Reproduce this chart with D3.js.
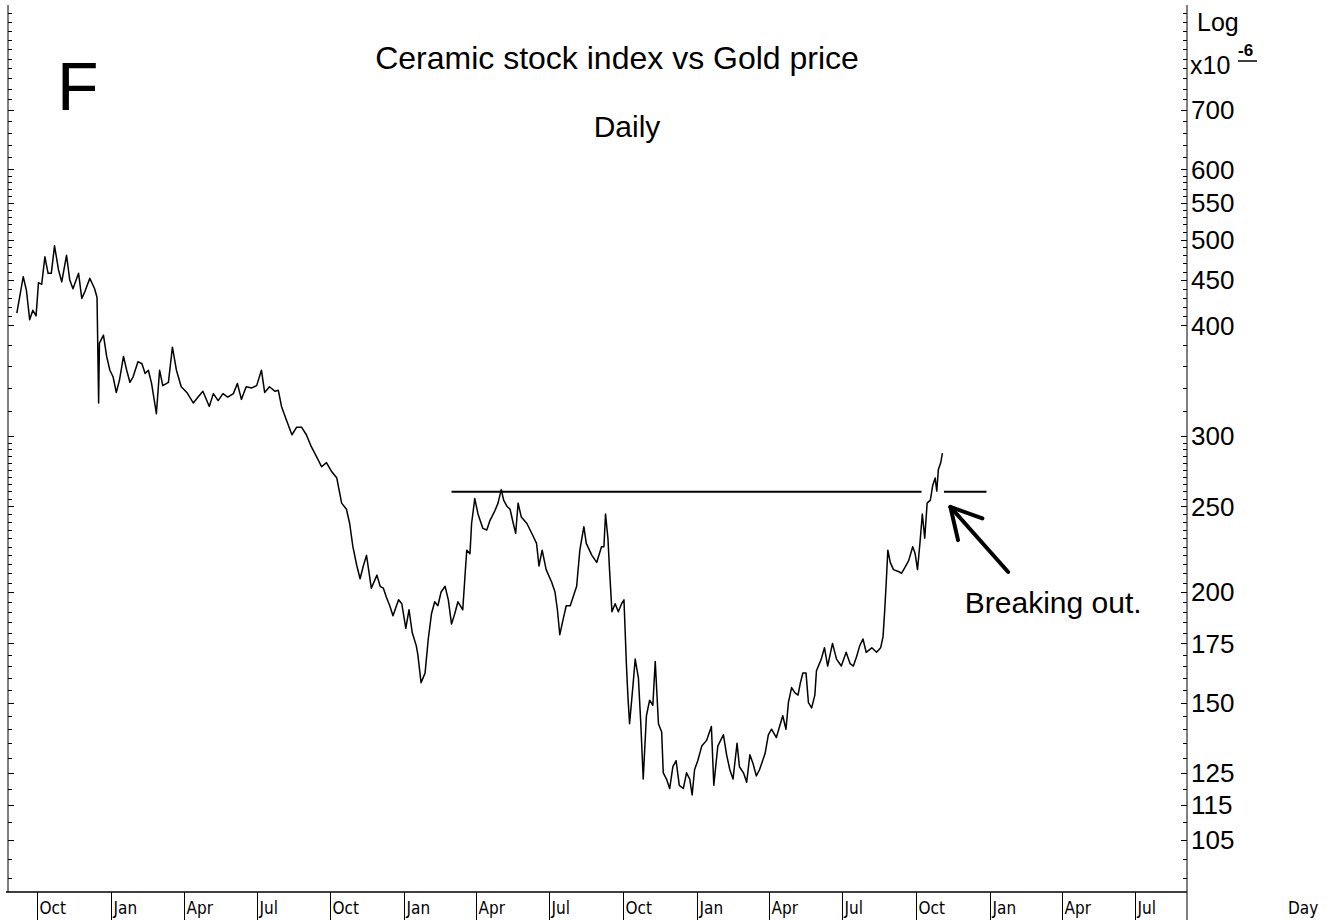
<!DOCTYPE html>
<html lang="en">
<head>
<meta charset="UTF-8">
<title>Ceramic stock index vs Gold price</title>
<script src="https://cdn.jsdelivr.net/npm/d3@7.8.5/dist/d3.min.js"></script>
<style>
    html, body { margin: 0; padding: 0; background: #fff; }
    svg { display: block; font-family: "Liberation Sans", Arial, sans-serif; }
</style>
</head>
<body>
<div id="chart"></div>
<script>
    // ---- data ----
    const firstDay = "2003-09-06";
    // [days after firstDay, ratio (x10^-6)]
    const ratio = [
        [0,413],[8,454],[12,438],[16,406],[20,416],[24,410],[27,447],[31,445],[35,478],[39,458],
        [43,458],[47,492],[52,462],[56,448],[62,480],[66,450],[70,440],[77,458],[81,429],[85,437],
        [91,452],[97,440],[100,430],[102,327],[103,382],[108,390],[112,369],[116,356],[120,350],[124,336],
        [128,347],[133,369],[137,356],[141,345],[145,350],[151,364],[156,362],[160,353],[164,356],[168,344],
        [174,318],[178,356],[182,342],[189,345],[194,378],[199,356],[205,341],[212,336],[220,327],[226,332],
        [232,337],[240,324],[245,335],[251,329],[257,335],[263,332],[270,335],[275,344],[280,330],[286,341],
        [293,340],[299,342],[305,356],[309,336],[315,341],[322,337],[326,338],[330,324],[336,313],[343,301],
        [349,307],[355,307],[361,301],[367,292],[374,284],[380,277],[386,280],[392,274],[399,269],[401,263],
        [405,252],[411,248],[415,239],[419,225],[424,214],[428,207],[432,214],[436,220],[442,202],[449,209],
        [453,203],[457,202],[461,197],[465,193],[469,188],[476,196],[480,194],[485,182],[489,191],[493,180],
        [498,174],[500,170],[504,158],[509,162],[513,177],[517,189],[521,195],[525,193],[529,200],[534,203],
        [538,196],[542,184],[546,189],[550,195],[556,191],[559,210],[561,223],[565,221],[567,239],[571,255],
        [575,245],[581,236],[586,235],[590,241],[596,247],[600,252],[604,261],[607,254],[611,250],[615,248],
        [619,239],[622,233],[625,252],[629,243],[636,239],[642,233],[648,227],[651,214],[655,223],[660,212],
        [667,205],[671,200],[674,191],[677,179],[681,186],[685,193],[690,193],[694,198],[698,203],[702,223],
        [707,237],[710,227],[717,220],[723,216],[729,225],[732,225],[734,245],[737,230],[739,212],[742,190],
        [746,194],[750,190],[754,194],[757,196],[760,166],[762,152],[764,142],[768,156],[771,168],[775,160],
        [778,142],[781,123],[785,145],[789,151],[793,149],[796,167],[800,142],[804,139],[806,125],[810,123],
        [814,120],[818,127],[822,129],[826,121],[831,120],[835,125],[839,123],[842,118],[845,126],[849,129],
        [854,134],[860,136],[866,141],[869,121],[874,134],[881,138],[885,131],[889,126],[893,123],[898,135],
        [901,127],[906,125],[910,122],[914,131],[918,128],[922,124],[926,126],[933,131.5],[937,138],[941,140],
        [947,137],[951,141],[955,145],[959,140],[962,150],[966,156],[970,154],[974,153],[977,158],[980,162],
        [984,162],[987,150],[991,148],[995,153],[997,163],[1003,168],[1007,173],[1011,165],[1017,175],[1022,168],
        [1028,165],[1034,171],[1039,166],[1043,165],[1047,169],[1051,174],[1055,177],[1059,171],[1066,173],[1072,171],
        [1077,173],[1080,178],[1082,190],[1084,205],[1086,223],[1089,216],[1093,212],[1099,211],[1103,210],[1107,213],
        [1112,217],[1117,225],[1120,221],[1123,212],[1126,227],[1129,245],[1132,230],[1135,252],[1139,254],[1142,264],
        [1145,269],[1147,260],[1149,275],[1152,280],[1154,287]
    ];

    const yLabels = [105, 115, 125, 150, 175, 200, 250, 300, 400, 450, 500, 550, 600, 700];
    const yMinor = [].concat(d3.range(95, 300, 5), d3.range(300, 400, 20), d3.range(400, 600, 10), d3.range(600, 940, 20));

    const resistance = 259.5;
    const resistanceSpans = [["2005-03-01", "2006-10-08"], ["2006-11-05", "2006-12-28"]];
    const arrowFrom = ["2007-01-24", 210.7];
    const arrowTo = ["2006-11-13", 249.5];
    const noteAt = ["2006-12-01", 189.4];

    // ---- layout ----
    const width = 1338, height = 920;
    const plot = {left: 8, right: 1187, top: 5, bottom: 892};
    const parse = d3.timeParse("%Y-%m-%d");
    const start = parse(firstDay);

    const x = d3.scaleTime()
        .domain([parse("2003-08-26"), parse("2007-09-04")])
        .range([plot.left, plot.right]);
    const y = d3.scaleLog()
        .domain([91.7, 932])
        .range([plot.bottom, 0]);

    const svg = d3.select("#chart").append("svg")
        .attr("width", width)
        .attr("height", height);

    // frame
    svg.append("line").attr("x1", plot.left).attr("x2", plot.left)
        .attr("y1", plot.top).attr("y2", plot.bottom).attr("stroke", "#000");
    svg.append("line").attr("x1", plot.right).attr("x2", plot.right)
        .attr("y1", plot.top).attr("y2", height).attr("stroke", "#000");
    svg.append("line").attr("x1", plot.left - 2).attr("x2", plot.right)
        .attr("y1", plot.bottom).attr("y2", plot.bottom).attr("stroke", "#000").attr("stroke-width", 1.5);

    // y ticks on both sides
    const minorVals = yMinor.filter(v => y(v) > plot.top && y(v) < plot.bottom);
    const ticks = svg.append("g").attr("stroke", "#000");
    minorVals.forEach(v => {
        const yy = Math.round(y(v)) + 0.5;
        ticks.append("line").attr("x1", plot.right - 4).attr("x2", plot.right).attr("y1", yy).attr("y2", yy);
        ticks.append("line").attr("x1", plot.left).attr("x2", plot.left + 4).attr("y1", yy).attr("y2", yy);
    });
    yLabels.forEach(v => {
        const yy = Math.round(y(v)) + 0.5;
        ticks.append("line").attr("x1", plot.right - 6).attr("x2", plot.right).attr("y1", yy).attr("y2", yy);
        ticks.append("line").attr("x1", plot.left).attr("x2", plot.left + 6).attr("y1", yy).attr("y2", yy);
    });

    svg.append("g").selectAll("text").data(yLabels).join("text")
        .attr("x", plot.right + 4)
        .attr("y", d => y(d))
        .attr("dy", "0.36em")
        .attr("font-size", 26)
        .text(d => d);

    svg.append("text").attr("x", plot.right + 10).attr("y", 31).attr("font-size", 25).text("Log");
    svg.append("text").attr("x", plot.right + 3).attr("y", 74).attr("font-size", 25).text("x10");
    svg.append("text").attr("x", plot.right + 51).attr("y", 56).attr("font-size", 17)
        .attr("font-weight", "bold").text("-6");
    svg.append("line").attr("x1", plot.right + 51).attr("x2", plot.right + 70)
        .attr("y1", 61).attr("y2", 61).attr("stroke", "#000").attr("stroke-width", 1.5);

    // x axis: quarter separators below the plot
    const quarters = x.ticks(d3.timeMonth.every(3));
    const fmt = d3.timeFormat("%b");
    const xg = svg.append("g");
    quarters.forEach(q => {
        const xx = Math.round(x(q)) + 0.5;
        xg.append("line").attr("x1", xx).attr("x2", xx)
            .attr("y1", plot.bottom).attr("y2", height).attr("stroke", "#000");
        xg.append("text").attr("x", xx + 2).attr("y", 914)
            .attr("font-family", "'DejaVu Sans Condensed', 'DejaVu Sans', sans-serif")
            .attr("font-size", 17).text(fmt(q));
    });
    svg.append("text").attr("x", 1288).attr("y", 914)
        .attr("font-family", "'DejaVu Sans Condensed', 'DejaVu Sans', sans-serif")
        .attr("font-size", 17).text("Day");

    // titles
    svg.append("text").attr("x", 617).attr("y", 69).attr("text-anchor", "middle")
        .attr("font-size", 32).text("Ceramic stock index vs Gold price");
    svg.append("text").attr("x", 627).attr("y", 137).attr("text-anchor", "middle")
        .attr("font-size", 30).text("Daily");
    svg.append("text").attr("x", 57).attr("y", 110).attr("font-size", 68).text("F");

    // the series
    const line = d3.line()
        .x(d => x(d3.timeDay.offset(start, d[0])))
        .y(d => y(d[1]));
    svg.append("path").attr("d", line(ratio))
        .attr("fill", "none").attr("stroke", "#000").attr("stroke-width", 1.5)
        .attr("stroke-linejoin", "round");

    // resistance line
    resistanceSpans.forEach(s => {
        svg.append("line")
            .attr("x1", x(parse(s[0]))).attr("x2", x(parse(s[1])))
            .attr("y1", y(resistance)).attr("y2", y(resistance))
            .attr("stroke", "#000").attr("stroke-width", 2);
    });

    // arrow + note
    const ax0 = x(parse(arrowFrom[0])), ay0 = y(arrowFrom[1]);
    const ax1 = x(parse(arrowTo[0])), ay1 = y(arrowTo[1]);
    const ang = Math.atan2(ay0 - ay1, ax0 - ax1);
    const wing = 34, spread = 0.5;
    svg.append("line").attr("x1", ax0).attr("y1", ay0).attr("x2", ax1).attr("y2", ay1)
        .attr("stroke", "#000").attr("stroke-width", 4).attr("stroke-linecap", "round");
    svg.append("path")
        .attr("d", `M${ax1 + wing * Math.cos(ang + spread)},${ay1 + wing * Math.sin(ang + spread)}` +
            `L${ax1},${ay1}L${ax1 + wing * Math.cos(ang - spread)},${ay1 + wing * Math.sin(ang - spread)}`)
        .attr("fill", "none").attr("stroke", "#000").attr("stroke-width", 4)
        .attr("stroke-linecap", "round").attr("stroke-linejoin", "round");
    svg.append("text").attr("x", x(parse(noteAt[0]))).attr("y", y(noteAt[1]))
        .attr("font-size", 30).text("Breaking out.");
</script>
</body>
</html>
